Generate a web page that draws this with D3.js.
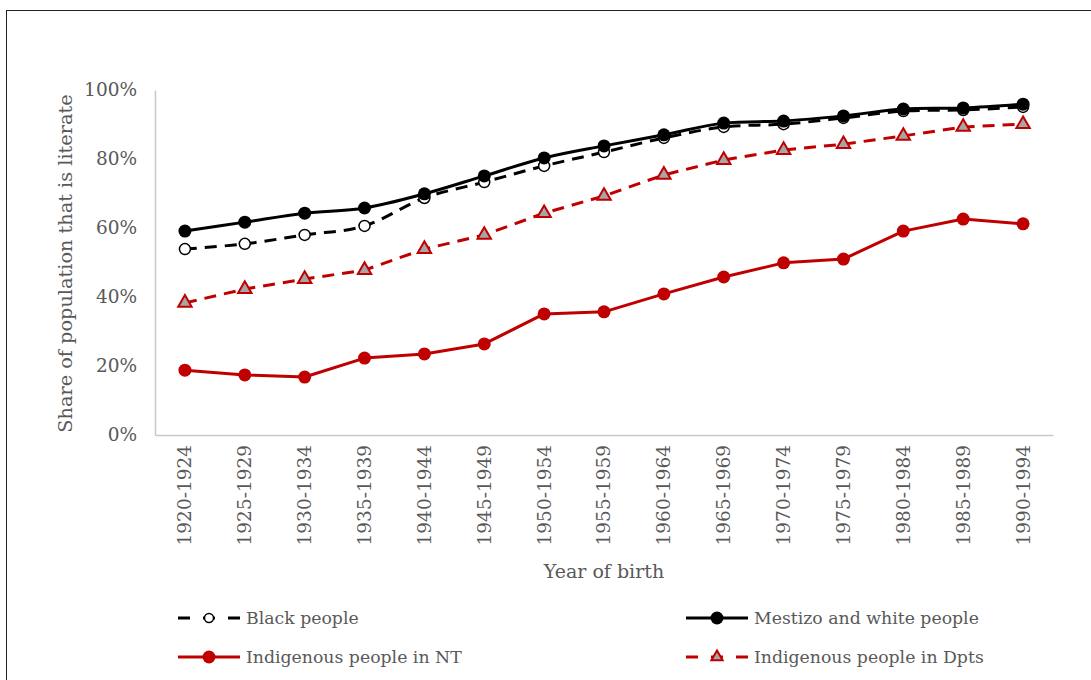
<!DOCTYPE html>
<html>
<head>
<meta charset="utf-8">
<script src="https://cdn.jsdelivr.net/npm/d3@7"></script>
<style>
  html, body { margin: 0; padding: 0; background: #fff; }
  svg { display: block; }
  text { font-family: "DejaVu Serif", "Liberation Serif", serif; fill: #595959; }
</style>
</head>
<body>
<svg id="chart" width="1091" height="680"></svg>
<script>
// Literacy by birth cohort and population group
const cohorts = ["1920-1924","1925-1929","1930-1934","1935-1939","1940-1944","1945-1949","1950-1954",
  "1955-1959","1960-1964","1965-1969","1970-1974","1975-1979","1980-1984","1985-1989","1990-1994"];

const blackPeople   = [53.9, 55.4, 58.0, 60.6, 68.7, 73.3, 78.0, 82.0, 86.1, 89.3, 90.1, 91.9, 93.9, 94.2, 95.1];
const mestizoWhite  = [59.1, 61.7, 64.3, 65.8, 69.9, 75.1, 80.3, 83.8, 87.0, 90.4, 91.0, 92.5, 94.5, 94.8, 95.9];
const indigenousNT  = [18.8, 17.4, 16.8, 22.3, 23.5, 26.4, 35.1, 35.7, 40.9, 45.8, 49.9, 51.0, 59.1, 62.6, 61.2];
const indigenousDpt = [38.3, 42.3, 45.2, 47.8, 53.9, 58.0, 64.3, 69.3, 75.4, 79.7, 82.6, 84.3, 86.7, 89.3, 90.1];

const yTicks = [0, 20, 40, 60, 80, 100];

const RED = "#c00000";

const series = [
  { name: "Black people", values: blackPeople, color: "#000", dash: "12,8", marker: "open", smooth: true },
  { name: "Mestizo and white people", values: mestizoWhite, color: "#000", dash: null, marker: "dot", smooth: true },
  { name: "Indigenous people in NT", values: indigenousNT, color: RED, dash: null, marker: "dot", smooth: false },
  { name: "Indigenous people in Dpts", values: indigenousDpt, color: RED, dash: "12,8", marker: "tri", smooth: false }
];

const svg = d3.select("#chart");

// chart frame
svg.append("rect")
  .attr("x", 6.5).attr("y", 10.5)
  .attr("width", 1100).attr("height", 700)
  .attr("fill", "none").attr("stroke", "#222").attr("stroke-width", 1);

const plot = { left: 155, right: 1053, top: 90, bottom: 435 };

const x = d3.scaleBand().domain(cohorts).range([plot.left, plot.right]);
const y = d3.scaleLinear().domain([0, 100]).range([plot.bottom, plot.top]);
const cx = c => x(c) + x.bandwidth() / 2;

// y axis
const yAxis = svg.append("g")
  .attr("transform", `translate(${plot.left},0)`)
  .call(d3.axisLeft(y).tickValues(yTicks).tickFormat(d => d + "%").tickSize(0).tickPadding(18));
yAxis.select(".domain").attr("stroke", "#c8c8c8").attr("stroke-width", 1.5);
yAxis.selectAll("text").style("font-size", "18.5px").attr("fill", "#595959")
  .style("font-family", "DejaVu Serif, serif");

// x axis
const xAxis = svg.append("g")
  .attr("transform", `translate(0,${plot.bottom})`)
  .call(d3.axisBottom(x).tickSize(0).tickPadding(0));
xAxis.select(".domain").attr("stroke", "#c8c8c8").attr("stroke-width", 1.5);
xAxis.selectAll("text")
  .style("font-size", "18.5px").attr("fill", "#595959")
  .style("font-family", "DejaVu Serif, serif")
  .attr("text-anchor", "end")
  .attr("dy", "0.35em")
  .attr("transform", "translate(0,10) rotate(-90)")
  .attr("x", 0).attr("y", 0);

// axis titles
svg.append("text")
  .attr("transform", `translate(72,${(plot.top + plot.bottom) / 2 + 1}) rotate(-90)`)
  .attr("text-anchor", "middle")
  .style("font-size", "19.3px")
  .text("Share of population that is literate");

svg.append("text")
  .attr("x", (plot.left + plot.right) / 2).attr("y", 578)
  .attr("text-anchor", "middle")
  .style("font-size", "19px")
  .text("Year of birth");

// line generators
const lineSmooth = d3.line().x((d, i) => cx(cohorts[i])).y(d => y(d)).curve(d3.curveCatmullRom.alpha(0));
const lineStraight = d3.line().x((d, i) => cx(cohorts[i])).y(d => y(d));

const triPath = d3.symbol().type(d3.symbolTriangle).size(78)();
const triSmall = d3.symbol().type(d3.symbolTriangle).size(55)();

function drawMarker(g, s, px, py, small) {
  if (s.marker === "open") {
    g.append("circle").attr("cx", px).attr("cy", py).attr("r", small ? 4.5 : 5.5)
      .attr("fill", "#fff").attr("stroke", "#000").attr("stroke-width", 1.5);
  } else if (s.marker === "dot") {
    g.append("circle").attr("cx", px).attr("cy", py).attr("r", 6.5)
      .attr("fill", s.color);
  } else {
    g.append("path").attr("d", small ? triSmall : triPath)
      .attr("transform", `translate(${px},${py})`)
      .attr("fill", "#a6a6a6").attr("stroke", RED).attr("stroke-width", 2);
  }
}

// draw order: red series under black
const order = [3, 2, 0, 1];
order.forEach(k => {
  const s = series[k];
  const g = svg.append("g");
  g.append("path")
    .attr("d", (s.smooth ? lineSmooth : lineStraight)(s.values))
    .attr("fill", "none")
    .attr("stroke", s.color)
    .attr("stroke-width", 3)
    .attr("stroke-dasharray", s.dash)
    .attr("stroke-linejoin", "round");
  s.values.forEach((v, i) => drawMarker(g, s, cx(cohorts[i]), y(v), false));
});

// legend
const legendPos = [
  { x: 178, y: 618 }, // Black people
  { x: 686, y: 618 }, // Mestizo and white
  { x: 178, y: 657 }, // Indigenous NT
  { x: 686, y: 657 }  // Indigenous Dpts
];
series.forEach((s, k) => {
  const p = legendPos[k];
  const g = svg.append("g").attr("transform", `translate(${p.x},${p.y})`);
  g.append("line").attr("x1", 0).attr("x2", 62).attr("y1", 0).attr("y2", 0)
    .attr("stroke", s.color).attr("stroke-width", 3)
    .attr("stroke-dasharray", s.dash ? "12,13" : null);
  drawMarker(g, s, 31, 0, true);
  g.append("text").attr("x", 68).attr("y", 0).attr("dy", "0.35em")
    .style("font-size", "17.3px").text(s.name);
});
</script>
</body>
</html>
